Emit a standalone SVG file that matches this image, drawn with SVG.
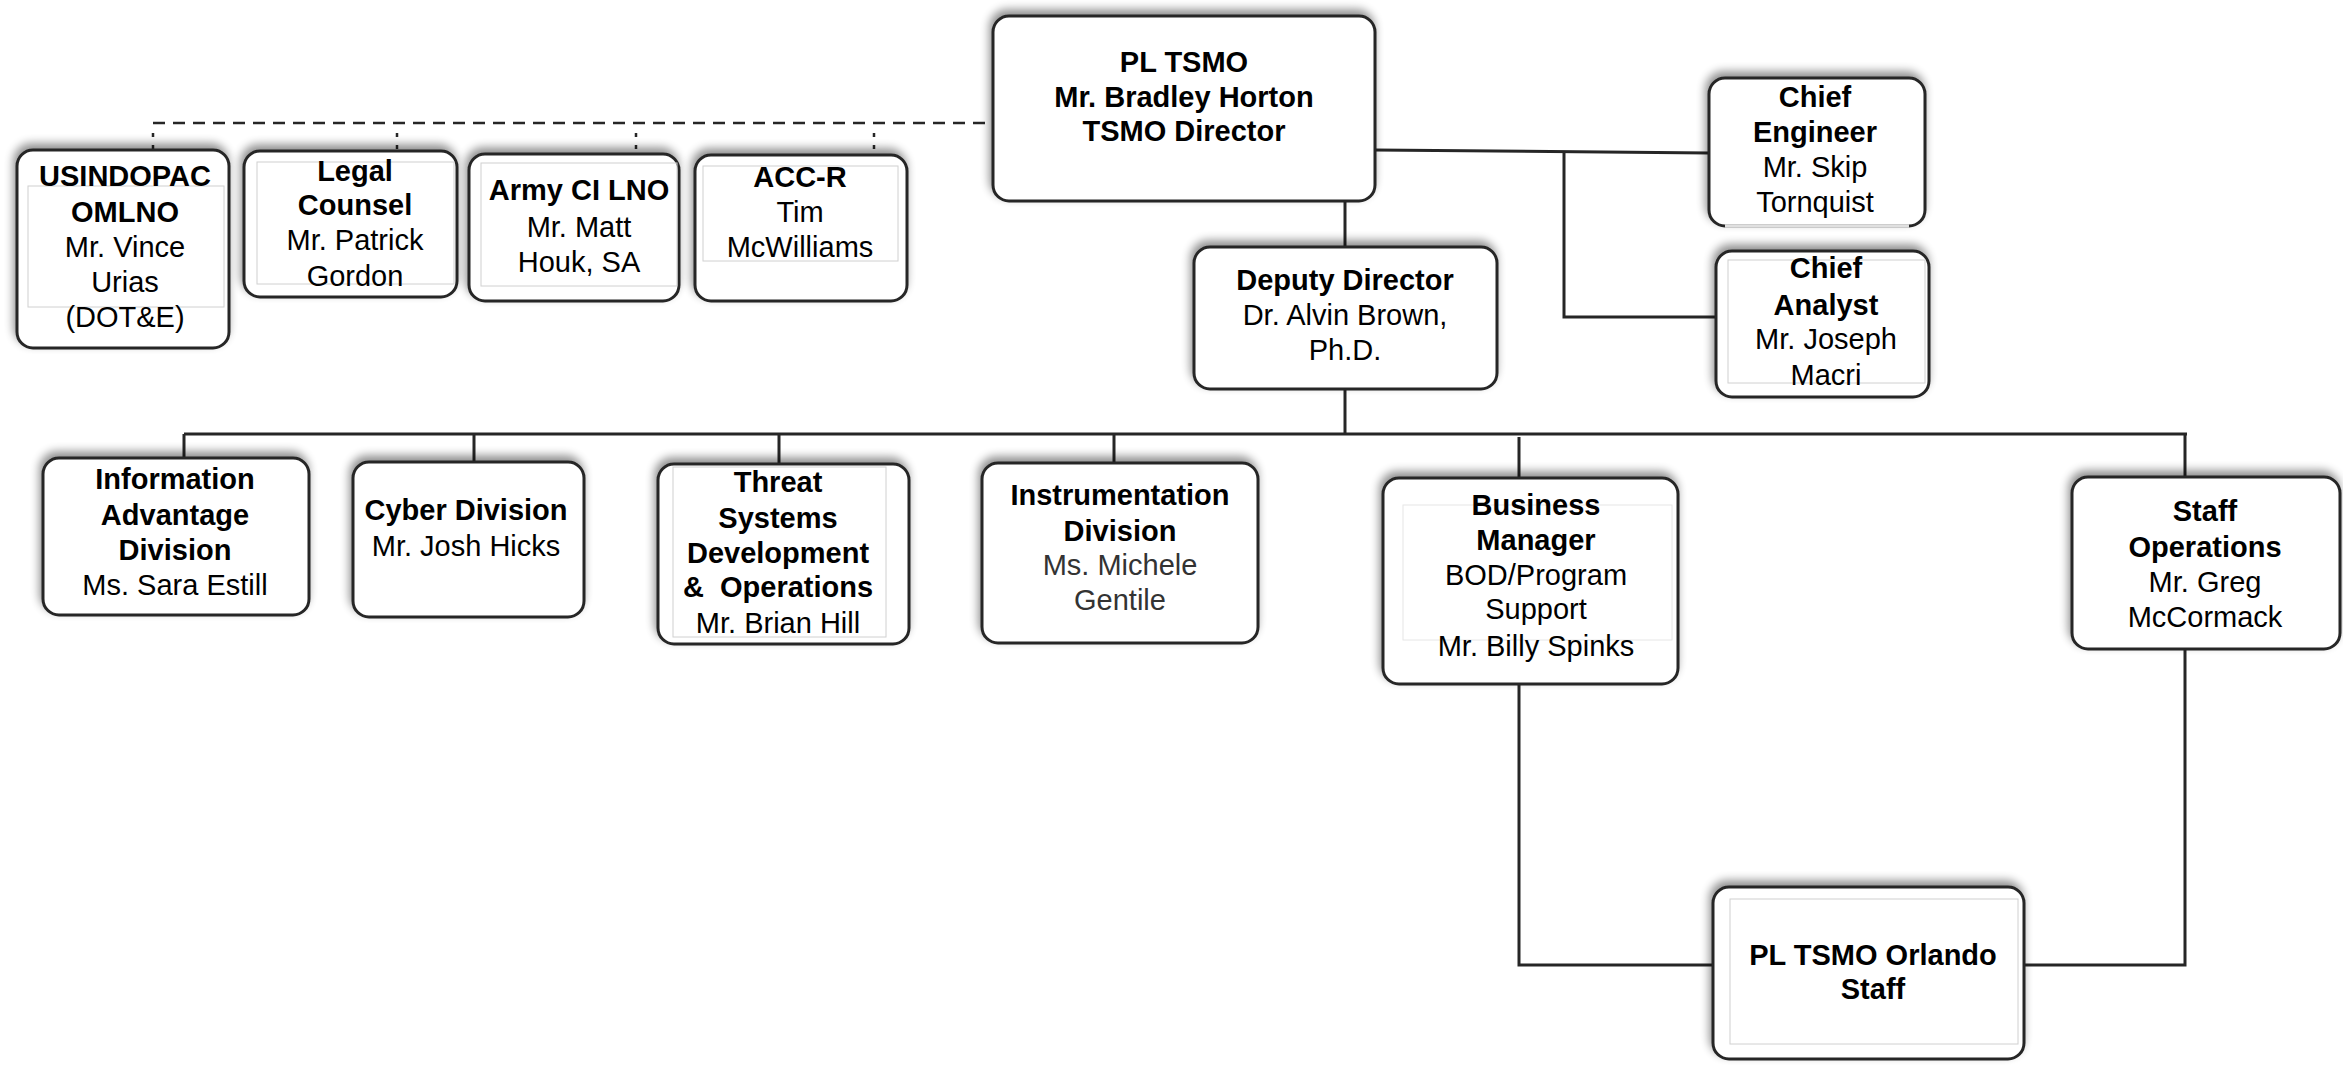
<svg xmlns="http://www.w3.org/2000/svg" width="2343" height="1066" viewBox="0 0 2343 1066">
<defs>
<filter id="sh" x="-10%" y="-20%" width="120%" height="140%">
<feGaussianBlur in="SourceAlpha" stdDeviation="5"/>
<feOffset dx="-2" dy="-5" result="b"/>
<feComponentTransfer><feFuncA type="linear" slope="0.45"/></feComponentTransfer>
<feMerge><feMergeNode/><feMergeNode in="SourceGraphic"/></feMerge>
</filter>
</defs>
<style>
.box{fill:#fff;stroke:#262626;stroke-width:3;filter:url(#sh)}
.inner{fill:none;stroke:#d0d0d0;stroke-width:1}
.ln{fill:none;stroke:#262626;stroke-width:3}
.dash{fill:none;stroke:#262626;stroke-width:2.5;stroke-dasharray:12 8}
text{font-family:"Liberation Sans",Arial,sans-serif;font-size:29px;fill:#000;text-anchor:middle}
.b{font-weight:bold}
.g{fill:#333}
</style>
<rect width="2343" height="1066" fill="#fff"/>

<g id="connectors">
<path class="dash" d="M153 123 H993"/>
<path class="dash" d="M153 133 V150 M397 133 V152 M636 133 V154 M874 133 V155" style="stroke-dasharray:4 8"/>
<path class="ln" d="M1375 150 L1709 153"/>
<path class="ln" d="M1564 151 V317 H1716"/>
<path class="ln" d="M1345 201 V247"/>
<path class="ln" d="M1345 389 V434"/>
<path class="ln" d="M184 434 H2187"/>
<path class="ln" d="M184 434 V458 M474 434 V462 M779 434 V464 M1114 434 V463 M1519 437 V478 M2185 434 V477"/>
<path class="ln" d="M1519 684 V965 H1713"/>
<path class="ln" d="M2185 649 V965 H2024"/>
</g>

<g id="pl-tsmo">
<rect class="box" x="993" y="16" width="382" height="185" rx="16"/>
<text class="b" x="1184" y="72">PL TSMO</text>
<text class="b" x="1184" y="107">Mr. Bradley Horton</text>
<text class="b" x="1184" y="141">TSMO Director</text>
</g>

<g id="usindopac">
<rect class="box" x="17" y="150" width="212" height="198" rx="16"/>
<rect class="inner" x="28" y="186" width="196" height="121"/>
<text class="b" x="125" y="186">USINDOPAC</text>
<text class="b" x="125" y="222">OMLNO</text>
<text x="125" y="257">Mr. Vince</text>
<text x="125" y="292">Urias</text>
<text x="125" y="327">(DOT&amp;E)</text>
</g>

<g id="legal">
<rect class="box" x="244" y="151" width="213" height="146" rx="16"/>
<rect class="inner" x="257" y="162" width="197" height="122"/>
<text class="b" x="355" y="181">Legal</text>
<text class="b" x="355" y="215">Counsel</text>
<text x="355" y="250">Mr. Patrick</text>
<text x="355" y="286">Gordon</text>
</g>

<g id="army">
<rect class="box" x="469" y="154" width="210" height="147" rx="16"/>
<rect class="inner" x="481" y="163" width="196" height="123"/>
<text class="b" x="579" y="200">Army CI LNO</text>
<text x="579" y="237">Mr. Matt</text>
<text x="579" y="272">Houk, SA</text>
</g>

<g id="accr">
<rect class="box" x="695" y="155" width="212" height="146" rx="16"/>
<rect class="inner" x="703" y="166" width="195" height="95"/>
<text class="b" x="800" y="187">ACC-R</text>
<text x="800" y="222">Tim</text>
<text x="800" y="257">McWilliams</text>
</g>

<g id="chief-engineer">
<rect class="box" x="1709" y="78" width="216" height="148" rx="16"/>
<path d="M1725 226 H1909" stroke="#e0e0e0" stroke-width="3.5"/>
<text class="b" x="1815" y="107">Chief</text>
<text class="b" x="1815" y="142">Engineer</text>
<text x="1815" y="177">Mr. Skip</text>
<text x="1815" y="212">Tornquist</text>
</g>

<g id="chief-analyst">
<rect class="box" x="1716" y="251" width="213" height="146" rx="16"/>
<rect class="inner" x="1728" y="260" width="197" height="123"/>
<text class="b" x="1826" y="278">Chief</text>
<text class="b" x="1826" y="315">Analyst</text>
<text x="1826" y="349">Mr. Joseph</text>
<text x="1826" y="385">Macri</text>
</g>

<g id="deputy">
<rect class="box" x="1194" y="247" width="303" height="142" rx="16"/>
<text class="b" x="1345" y="290">Deputy Director</text>
<text x="1345" y="325">Dr. Alvin Brown,</text>
<text x="1345" y="360">Ph.D.</text>
</g>

<g id="info">
<rect class="box" x="43" y="458" width="266" height="157" rx="16"/>
<text class="b" x="175" y="489">Information</text>
<text class="b" x="175" y="525">Advantage</text>
<text class="b" x="175" y="560">Division</text>
<text x="175" y="595">Ms. Sara Estill</text>
</g>

<g id="cyber">
<rect class="box" x="353" y="462" width="231" height="155" rx="16"/>
<text class="b" x="466" y="520">Cyber Division</text>
<text x="466" y="556">Mr. Josh Hicks</text>
</g>

<g id="threat">
<rect class="box" x="658" y="464" width="251" height="180" rx="16"/>
<rect class="inner" x="673" y="467" width="213" height="170"/>
<text class="b" x="778" y="492">Threat</text>
<text class="b" x="778" y="528">Systems</text>
<text class="b" x="778" y="563">Development</text>
<text class="b" x="778" y="597" xml:space="preserve">&amp;  Operations</text>
<text x="778" y="633">Mr. Brian Hill</text>
</g>

<g id="instrumentation">
<rect class="box" x="982" y="463" width="276" height="180" rx="16"/>
<text class="b" x="1120" y="505">Instrumentation</text>
<text class="b" x="1120" y="541">Division</text>
<text class="g" x="1120" y="575">Ms. Michele</text>
<text class="g" x="1120" y="610">Gentile</text>
</g>

<g id="business">
<rect class="box" x="1383" y="478" width="295" height="206" rx="16"/>
<rect class="inner" x="1403" y="505" width="269" height="135" style="stroke:#e6e6e6"/>
<text class="b" x="1536" y="515">Business</text>
<text class="b" x="1536" y="550">Manager</text>
<text x="1536" y="585">BOD/Program</text>
<text x="1536" y="619">Support</text>
<text x="1536" y="656">Mr. Billy Spinks</text>
</g>

<g id="staff-ops">
<rect class="box" x="2072" y="477" width="268" height="172" rx="16"/>
<text class="b" x="2205" y="521">Staff</text>
<text class="b" x="2205" y="557">Operations</text>
<text x="2205" y="592">Mr. Greg</text>
<text x="2205" y="627">McCormack</text>
</g>

<g id="orlando">
<rect class="box" x="1713" y="887" width="311" height="172" rx="16"/>
<rect class="inner" x="1730" y="899" width="288" height="145"/>
<text class="b" x="1873" y="965">PL TSMO Orlando</text>
<text class="b" x="1873" y="999">Staff</text>
</g>
</svg>
